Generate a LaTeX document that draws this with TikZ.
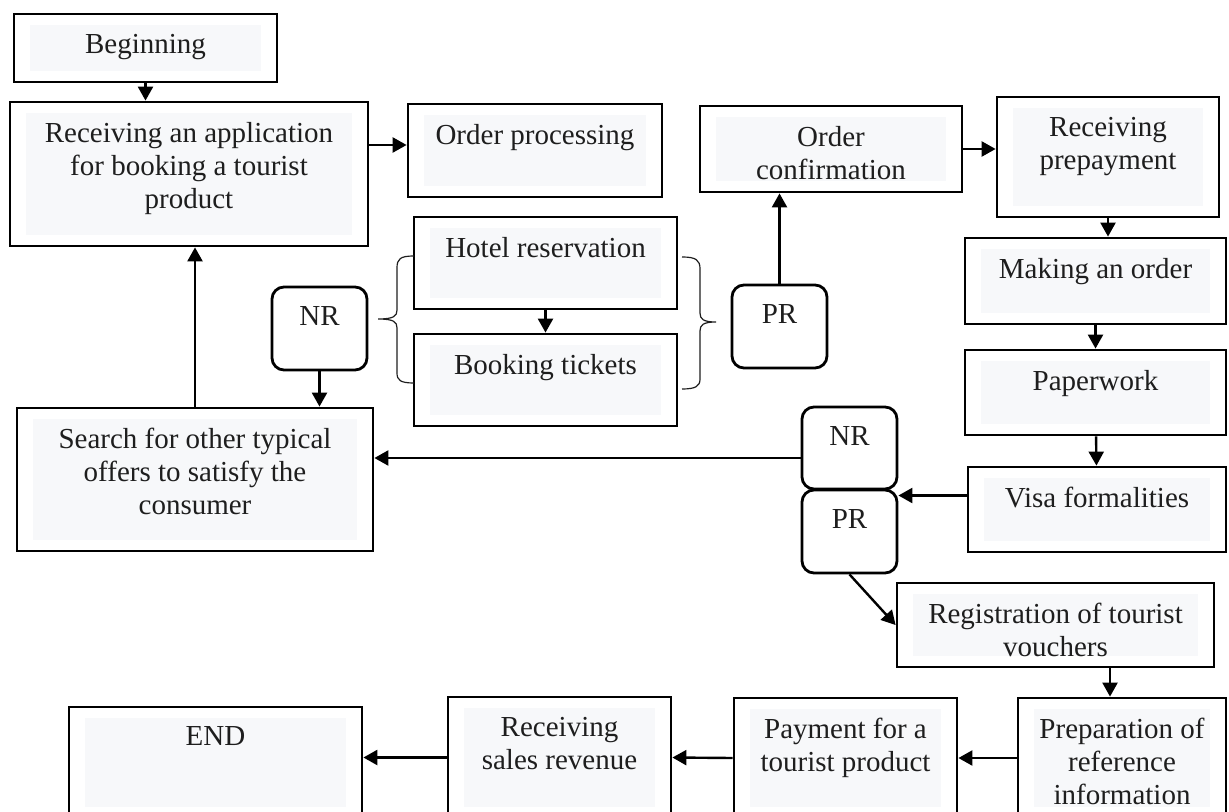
\documentclass[tikz,border=0pt]{standalone}
\usepackage{fontspec}
\setmainfont{Liberation Serif}
\usetikzlibrary{fit, calc, arrows.meta, positioning}

\definecolor{panel}{HTML}{F7F8FA}
\definecolor{ink}{HTML}{1E1E1E}

\begin{document}
\begin{tikzpicture}[x=0.5pt, y=-0.5pt,
    stage/.style={draw, line width=1.4pt, inner sep=0pt,
        path picture={\fill[panel]
          ([shift={(8pt,-5.5pt)}]path picture bounding box.north west) rectangle
          ([shift={(-8pt,5.5pt)}]path picture bounding box.south east);}},
    choice/.style={draw, line width=1.4pt, rounded corners=6pt, inner sep=0pt},
    caption/.style={anchor=north, yshift=-10.5pt, inner sep=0pt, align=center,
        text=ink, font=\fontsize{14.5}{16.5}\selectfont},
    flow/.style={line width=1.2pt, -{Triangle[length=7pt,width=7.5pt]}},
    bracket/.style={line width=0.6pt, draw=ink}]
  \useasboundingbox (0,0) rectangle (1229,812);

  % left column
  \node[stage, fit={(14,14) (277,82)},
        label={[caption]north:Beginning}] (begin) {};
  \node[stage, fit={(10,102) (368,246)},
        label={[caption]north:Receiving an application\\for booking a tourist\\product}] (app) {};
  \node[choice, fit={(272,287) (367,370)},
        label={[caption]north:NR}] (nrA) {};
  \node[stage, fit={(17,408) (373,551)},
        label={[caption]north:Search for other typical\\offers to satisfy the\\consumer}] (search) {};

  % middle
  \node[stage, fit={(408,104) (662,197)},
        label={[caption]north:Order processing}] (proc) {};
  \node[stage, fit={(414,217) (677,309)},
        label={[caption]north:Hotel reservation}] (hotel) {};
  \node[stage, fit={(414,334) (677,426)},
        label={[caption]north:Booking tickets}] (booking) {};
  \node[choice, fit={(732,285) (827,368)},
        label={[caption]north:PR}] (prA) {};
  \node[stage, fit={(700,106) (962,192)},
        label={[caption]north:Order\\confirmation}] (conf) {};

  % right column
  \node[stage, fit={(997,97) (1219,217)},
        label={[caption]north:Receiving\\prepayment}] (prepay) {};
  \node[stage, fit={(965,238) (1226,324)},
        label={[caption]north:Making an order}] (making) {};
  \node[stage, fit={(965,350) (1226,435)},
        label={[caption]north:Paperwork}] (paper) {};
  \node[stage, fit={(968,467) (1226,552)},
        label={[caption]north:Visa formalities}] (visa) {};
  \node[choice, fit={(802,407) (897,489)},
        label={[caption]north:NR}] (nrB) {};
  \node[choice, fit={(802,490) (897,573)},
        label={[caption]north:PR}] (prB) {};
  \node[stage, fit={(897,583) (1214,667)},
        label={[caption]north:Registration of tourist\\vouchers}] (reg) {};

  % bottom row
  \node[stage, fit={(1018,698) (1226,818)},
        label={[caption]north:Preparation of\\reference\\information}] (prep) {};
  \node[stage, fit={(734,698) (957,818)},
        label={[caption]north:Payment for a\\tourist product}] (pay) {};
  \node[stage, fit={(448,697) (671,818)},
        label={[caption]north:Receiving\\sales revenue}] (sales) {};
  \node[stage, fit={(69,707) (362,818)},
        label={[caption]north:END}] (stop) {};

  % braces
  \draw[bracket] (414,256) .. controls (400,256) and (397,259) .. (397,268)
    -- (397,310) .. controls (397,316) and (394,319) .. (378,319)
    .. controls (394,319) and (397,322) .. (397,328)
    -- (397,373) .. controls (397,380) and (400,383) .. (414,383);
  \draw[bracket] (682,257) .. controls (696,257) and (700,260) .. (700,269)
    -- (700,313) .. controls (700,319) and (703,322) .. (716,322)
    .. controls (703,322) and (700,325) .. (700,331)
    -- (700,379) .. controls (700,386) and (696,389) .. (682,389);

  % arrows
  \draw[flow] (begin.south) -- (begin.south |- app.north);
  \draw[flow] (app.east |- 0,145) -- (proc.west |- 0,145);
  \draw[flow] (search.north) -- (search.north |- app.south);
  \draw[flow] (nrA.south) -- (nrA.south |- search.north);
  \draw[flow] (hotel) -- (booking);
  \draw[flow] (prA.north) -- (prA.north |- conf.south);
  \draw[flow] (conf.east) -- (conf.east -| prepay.west);
  \draw[flow] (prepay.south) -- (prepay.south |- making.north);
  \draw[flow] (making) -- (paper);
  \draw[flow] (paper) -- (visa);
  \draw[flow] ([yshift=7pt]visa.west) coordinate (v) -- (v -| prB.east);
  \draw[flow] ([yshift=-5pt]nrB.west) coordinate (n) -- (n -| search.east);
  \draw[flow] (prB.south) -- (reg.west);
  \path ([xshift=-6pt]prep.north) coordinate (p);
  \draw[flow] (p |- reg.south) -- (p);
  \draw[flow] (prep.west) -- (pay.east);
  \draw[flow] (pay.west) -- (sales.east);
  \draw[flow] (sales.west) -- (sales.west -| stop.east);
\end{tikzpicture}
\end{document}
